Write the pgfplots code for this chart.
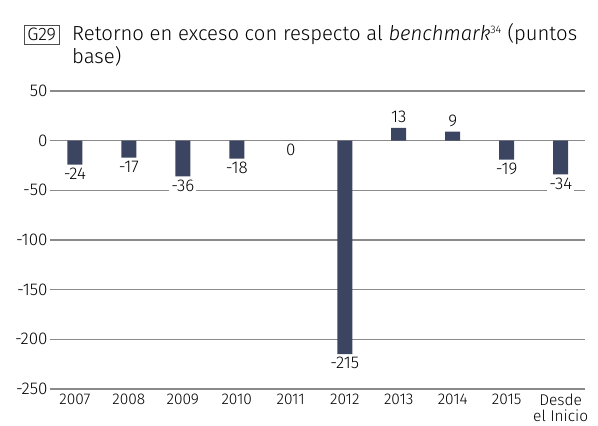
\documentclass[border=0pt]{standalone}
\usepackage{fontspec}
\setmainfont{Fira Sans}[UprightFont=* Light, ItalicFont=* Light Italic]
\usepackage{pgfplots}
\pgfplotsset{compat=1.18}
\definecolor{barnavy}{HTML}{3B4561}
\definecolor{gridgray}{HTML}{8A8A8A}

\begin{document}
\begin{tikzpicture}[x=1pt,y=1pt]
% page frame in pixels of the reference (axis box lower left = px 50,389)
\useasboundingbox (-50,-37) rectangle (548,389);
\begin{axis}[
    scale only axis,
    width=535pt, height=298pt,
    ybar, bar width=15pt,
    xmin=-0.46, xmax=9.45,
    ymin=-250, ymax=50,
    ytick={-250,-200,-150,-100,-50,0,50},
    xtick={0,1,2,3,4,5,6,7,8,9},
    xticklabels={2007,2008,2009,2010,2011,2012,2013,2014,2015,{Desde\\el Inicio}},
    xticklabel style={align=center, font=\fontsize{15.5}{16}\selectfont, yshift=-1pt},
    yticklabel style={font=\fontsize{17}{18}\selectfont, xshift=1pt},
    /pgf/number format/assume math mode=true,
    axis line style={draw=none},
    major tick length=0pt,
    ymajorgrids,
    grid style={gridgray, line width=1.1pt},
    nodes near coords,
    visualization depends on=rawy \as \yv,
    every node near coord/.append code={\ifdim\yv pt>0pt \pgfkeysalso{anchor=south, yshift=3pt}\else\pgfkeysalso{anchor=north, yshift=-1pt}\fi},
    every node near coord/.append style={font=\fontsize{17}{18}\selectfont, fill=white, inner sep=2pt, text=black},
]
\addplot[fill=barnavy, draw=none] coordinates {
    (0,-24) (1,-17) (2,-36) (3,-18) (4,0) (5,-215) (6,13) (7,9) (8,-19) (9,-34)
};
\end{axis}
\node[draw=black!70, line width=0.6pt, anchor=base west, inner sep=3pt, font=\fontsize{18}{19}\selectfont] at (-26,348) {G29};
\node[anchor=base west, inner sep=0pt, font=\fontsize{20.3}{21}\selectfont] at (22,348)
    {Retorno en exceso con respecto al \textit{benchmark}\textsuperscript{\fontsize{11}{12}\selectfont 34} (puntos};
\node[anchor=base west, inner sep=0pt, font=\fontsize{20.3}{21}\selectfont] at (22,325) {base)};
\end{tikzpicture}
\end{document}
